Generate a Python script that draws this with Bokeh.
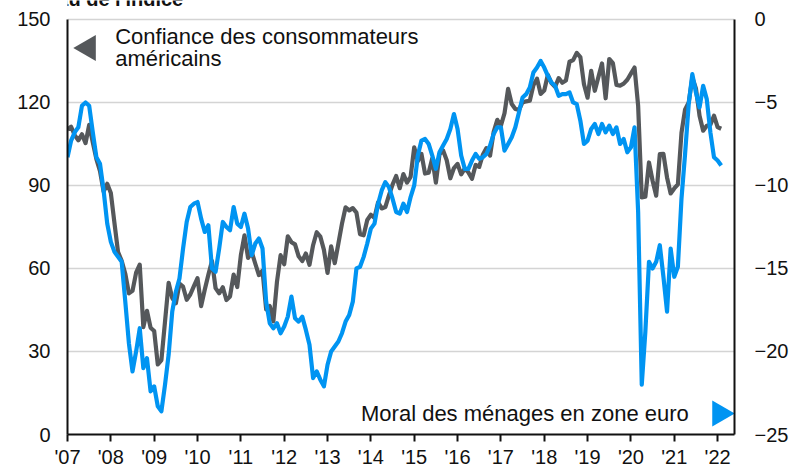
import numpy as np
from bokeh.plotting import figure
from bokeh.models import Range1d, LinearAxis, FixedTicker, Label, ColumnDataSource
from bokeh.embed import file_html
from bokeh.resources import INLINE

# ---- data -------------------------------------------------------------
start_year = 2007
# US Conference Board consumer confidence (left axis), monthly from Jan 2007
us_confidence = [
    110.2, 111.2, 108.2, 106.3, 108.5, 105.3, 111.9, 105.6, 99.5, 95.2, 87.8, 90.6,
    87.3, 76.4, 65.9, 62.8, 58.1, 51.0, 51.9, 58.5, 61.4, 38.8, 44.7, 38.6,
    37.4, 25.3, 26.9, 40.8, 54.8, 49.3, 47.4, 54.5, 53.4, 48.7, 50.6, 53.6,
    56.5, 46.4, 52.3, 57.7, 62.7, 52.9, 51.0, 53.2, 48.6, 49.9, 57.8, 53.3,
    64.8, 72.0, 63.8, 66.0, 61.7, 57.6, 59.2, 45.2, 46.4, 40.9, 55.2, 64.8,
    61.5, 71.6, 69.5, 68.7, 64.4, 62.7, 65.4, 61.3, 68.4, 73.1, 71.5, 66.7,
    58.4, 68.0, 61.9, 69.0, 76.2, 82.1, 81.0, 81.8, 80.2, 72.4, 72.0, 77.5,
    79.4, 78.3, 83.9, 81.7, 82.2, 86.4, 90.3, 93.4, 89.0, 94.1, 91.0, 93.1,
    103.8, 98.8, 101.4, 94.3, 94.6, 99.8, 91.0, 101.3, 102.6, 99.1, 92.6, 96.3,
    97.8, 94.0, 96.1, 94.7, 92.4, 97.4, 96.7, 101.1, 103.5, 100.8, 109.4, 113.7,
    111.6, 116.1, 124.9, 119.4, 117.6, 117.3, 120.0, 120.4, 120.6, 126.2, 128.6, 123.1,
    124.3, 130.0, 127.0, 125.6, 128.8, 127.1, 127.9, 134.7, 135.3, 137.9, 136.4, 126.6,
    121.7, 131.4, 124.2, 129.2, 134.1, 121.5, 135.7, 134.2, 126.3, 126.1, 126.8, 128.2,
    130.4, 132.6, 118.8, 85.7, 85.9, 98.3, 91.7, 86.3, 101.3, 101.4, 92.9, 87.1,
    88.9, 90.4, 109.0, 117.5, 120.0, 128.9, 125.1, 115.2, 109.8, 111.6, 111.9, 115.2,
    111.1, 110.5,
]
# Euro area consumer confidence (right axis), monthly from Jan 2007
ez_confidence = [
    -8.3, -7.3, -6.8, -6.5, -5.2, -5.0, -5.2, -6.8, -8.3, -8.7, -10.3, -12.3,
    -13.4, -14.0, -14.3, -14.6, -17.0, -19.5, -21.2, -20.0, -18.6, -21.0, -20.4, -22.4,
    -22.1, -23.3, -23.6, -22.0, -20.2, -17.6, -16.4, -15.6, -13.8, -12.2, -11.3, -11.1,
    -11.0, -12.0, -12.8, -12.4, -15.0, -15.2, -13.8, -12.2, -12.5, -12.7, -11.3, -12.3,
    -12.5, -11.7, -12.6, -14.2, -13.5, -13.2, -13.8, -17.0, -18.3, -18.6, -18.3, -18.9,
    -18.5, -17.9, -16.7, -18.0, -18.2, -17.9, -18.7, -19.6, -21.6, -21.2, -21.7, -22.1,
    -20.8, -20.0, -19.7, -19.4, -18.9, -18.2, -17.8, -17.0, -15.0, -14.9, -14.3, -13.5,
    -12.6, -12.3, -11.1, -10.3, -9.8, -10.1, -10.8, -11.6, -11.7, -11.1, -11.6, -10.7,
    -10.0, -8.2, -7.3, -7.2, -7.5, -8.2, -9.0, -8.0, -7.6, -7.2, -6.6, -5.7,
    -6.6, -8.2, -9.0, -9.0, -8.5, -8.1, -8.4, -8.3, -8.1, -7.6, -6.9, -6.5,
    -6.5, -7.9, -7.5, -7.1, -6.5, -5.6, -4.7, -4.5, -4.1, -3.2, -2.9, -2.5,
    -2.9, -3.4, -3.8, -4.0, -4.6, -4.5, -4.5, -4.4, -5.0, -5.1, -6.1, -7.5,
    -7.3, -6.6, -6.3, -6.9, -6.3, -6.8, -6.4, -6.9, -6.5, -7.5, -7.2, -8.0,
    -7.7, -6.5, -11.6, -22.0, -18.8, -14.6, -15.0, -14.6, -13.6, -15.5, -17.6, -13.8,
    -15.5, -14.9, -10.8, -8.1, -5.1, -3.3, -4.4, -5.3, -4.0, -4.8, -6.8, -8.3,
    -8.5, -8.8,
]
tick_years = list(range(2007, 2023))
tick_labels = ["'07", "'08", "'09", "'10", "'11", "'12", "'13", "'14",
               "'15", "'16", "'17", "'18", "'19", "'20", "'21", "'22"]
left_ticks = [0, 30, 60, 90, 120, 150]
right_ticks = [-25, -20, -15, -10, -5, 0]
us_name = "Confiance des consommateurs"
us_name2 = "américains"
ez_name = "Moral des ménages en zone euro"
y_title = "Niveau de l'indice"

# ---- figure -------------------------------------------------------------
FONT = "Liberation Sans"
GREY = "#55585b"
BLUE = "#0094f2"
INK = "#111111"

# frame spans up to the top of the canvas; the axes are bounded to 0..150
# (left) and -25..0 (right); the headroom holds the cut-off title.
LEFT_TOP = 150 + 19 / (417 / 150)
RIGHT_TOP = 0 + 19 / (417 / 25)

dates = start_year + np.arange(len(us_confidence)) / 12.0
src = ColumnDataSource(dict(x=dates, us=us_confidence, ez=ez_confidence))

p = figure(width=791, height=470, output_backend="svg", toolbar_location=None,
           x_range=Range1d(2007, 2022.39), y_range=Range1d(0, LEFT_TOP),
           min_border_left=67, min_border_right=52, min_border_top=0,
           min_border_bottom=34, margin=(0, 0, 0, 0))
p.extra_y_ranges = {"right": Range1d(-25, RIGHT_TOP)}
p.outline_line_color = None
p.background_fill_color = "white"
p.border_fill_color = "white"

p.xgrid.grid_line_color = None
p.ygrid.grid_line_color = "#d4d4d4"
p.ygrid.grid_line_width = 1.5
p.yaxis.ticker = FixedTicker(ticks=left_ticks)

ly = p.yaxis[0]
ly.bounds = (0, 150)
right = LinearAxis(y_range_name="right", ticker=FixedTicker(ticks=right_ticks),
                   bounds=(-25, 0))
p.add_layout(right, "right")
for ax, so in [(ly, 17), (right, 20)]:
    ax.axis_line_color = INK
    ax.axis_line_width = 2
    ax.major_tick_line_color = None
    ax.major_tick_in = 0
    ax.major_tick_out = 0
    ax.minor_tick_line_color = None
    ax.minor_tick_in = 0
    ax.minor_tick_out = 0
    ax.major_label_text_font = FONT
    ax.major_label_text_font_size = "20px"
    ax.major_label_text_color = INK
    ax.major_label_standoff = so
right.major_label_text_align = "left"

xa = p.xaxis[0]
xa.ticker = FixedTicker(ticks=tick_years)
xa.major_label_overrides = {y: l for y, l in zip(tick_years, tick_labels)}
xa.axis_line_color = INK
xa.axis_line_width = 2
xa.major_tick_line_color = INK
xa.major_tick_line_width = 2
xa.major_tick_in = 0
xa.major_tick_out = 7
xa.minor_tick_line_color = None
xa.minor_tick_out = 0
xa.major_label_text_font = FONT
xa.major_label_text_font_size = "20px"
xa.major_label_text_color = INK
xa.major_label_standoff = 4

p.line("x", "us", source=src, line_color=GREY, line_width=4.2, line_join="round")
p.line("x", "ez", source=src, line_color=BLUE, line_width=4.2, line_join="round",
       y_range_name="right")

# legend markers
p.scatter([2007.48], [139.7], marker="triangle", size=26, angle=np.pi / 2,
          fill_color=GREY, line_color=None)
p.scatter([2022.05], [7.6], marker="triangle", size=26, angle=-np.pi / 2,
          fill_color=BLUE, line_color=None)

def lab(x, y, t, align="left", bold=False, size="22px"):
    p.add_layout(Label(x=x, y=y, text=t, text_font=FONT, text_font_size=size,
                       text_color=INK, text_align=align,
                       text_baseline="alphabetic",
                       text_font_style="bold" if bold else "normal"))

lab(2008.10, 143.9, us_name)
lab(2008.10, 135.9, us_name2)
lab(2021.335, 7.55, ez_name, align="right")
lab(2005.79, 157.4, y_title, bold=True, size="20px")

open("out.html", "w").write(file_html(p, INLINE))
